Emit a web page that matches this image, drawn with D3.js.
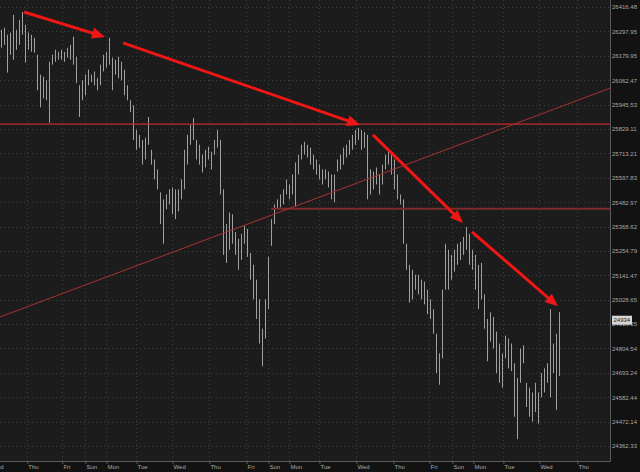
<!DOCTYPE html>
<meta charset="utf-8">
<style>

body {
  margin: 0;
  background: #121212;
}

svg {
  display: block;
}

.axis text {
  font: 6px "Liberation Sans", Arial, sans-serif;
  fill: #a8a8a8;
}

.axis line {
  stroke: #5a5a5a;
}

.grid line {
  stroke: #3e3e3e;
  stroke-dasharray: 1,3;
}

.bar {
  stroke: #a0a0a0;
  stroke-width: 1px;
}

</style>
<body>
<svg width="640" height="472"></svg>
<script src="https://d3js.org/d3.v7.min.js"></script>
<script>

// bar highs and lows
var highs = [26306,26316,26282,26292,26378,26306,26354,26392,26330,26292,26282,26267,26185,26089,26079,26062,26151,26185,26209,26199,
  26209,26199,26219,26233,26272,26175,26038,26062,26089,26113,26089,26104,26072,26137,26185,26199,26267,26171,26161,26175,
  26151,26113,26038,25966,25942,25824,25801,25777,25787,25886,25730,25684,25637,25529,25496,25519,25543,25552,25543,25543,
  25590,25730,25801,25848,25881,25777,25754,25707,25730,25745,25721,25777,25824,25777,25543,25380,25435,25426,25343,25311,
  25334,25371,25357,25245,25190,25121,25030,24895,25030,25227,25403,25472,25496,25519,25543,25590,25566,25613,25670,25707,
  25754,25768,25754,25740,25707,25684,25660,25637,25637,25627,25613,25613,25684,25707,25740,25754,25777,25801,25824,25834,
  25824,25815,25801,25637,25627,25646,25613,25660,25707,25721,25707,25684,25613,25519,25496,25288,25190,25167,25144,25144,
  25121,25112,25075,25030,24985,24872,24782,25075,25288,25260,25236,25260,25288,25297,25320,25366,25334,25260,25236,25190,
  25199,25053,24940,24971,24949,24881,24827,24782,24863,24850,24827,24737,24670,24804,24818,24648,24626,24604,24648,24604,
  24692,24714,24737,24985,24827,24872,24971];

var lows = [26219,26233,26099,26185,26161,26209,26233,26282,26147,26209,26199,26195,26014,25932,25975,25966,25858,26137,26151,26161,
  26161,26151,26171,26161,26137,26048,25886,25966,25990,26038,26053,26038,26014,26038,26104,26123,26137,26014,26089,26072,
  26062,25990,25966,25909,25777,25730,25740,25660,25684,25754,25660,25590,25543,25380,25288,25449,25472,25426,25403,25440,
  25496,25543,25660,25754,25777,25684,25660,25623,25646,25684,25637,25707,25740,25519,25236,25199,25260,25288,25236,25167,
  25213,25288,25227,25121,25030,24940,24827,24723,24850,24985,25278,25380,25449,25458,25472,25519,25496,25519,25463,25613,
  25684,25707,25693,25660,25637,25613,25590,25566,25590,25552,25496,25482,25627,25637,25660,25693,25707,25730,25754,25777,
  25730,25740,25496,25519,25543,25566,25519,25566,25637,25660,25613,25543,25496,25472,25288,25167,25016,25030,25075,25053,
  25030,25007,24962,24940,24872,24692,24639,24759,25075,25075,25121,25158,25190,25213,25236,25260,25190,25167,25075,24985,
  25030,24895,24746,24836,24804,24692,24648,24626,24759,24714,24701,24494,24393,24648,24737,24538,24494,24472,24516,24463,
  24582,24604,24648,24582,24692,24525,24679];

var lastPrice = 24934;

var priceTicks = [26416.48, 26297.95, 26179.95, 26062.47, 25945.53, 25829.11, 25713.21, 25597.83, 25482.97, 25368.62,
  25254.79, 25141.47, 25028.65, 24916.35, 24804.54, 24693.24, 24582.44, 24472.14, 24362.33];

var dayNames = ["Wed", "Thu", "Fri", "Sun", "Mon", "Tue", "Wed", "Thu", "Fri", "Sun",
  "Mon", "Tue", "Wed", "Thu", "Fri", "Sun", "Mon", "Tue", "Wed", "Thu"];
var dayStarts = [-3.7, 8.6, 20.3, 28, 35, 45, 57, 69.3, 81.7, 89,
  96, 106, 118.3, 130.7, 142.7, 150.3, 157.3, 167.3, 179.3, 192];

// drawn levels: [start bar, price]
var resistance = [-1, 25852];
var support = [90, 25452];
var trendStart = [-0.33, 24949],
    trendEnd = [203, 26024];

// arrows: [bar, price] -> [bar, price]
var arrows = [
  [[7.67, 26392], [34.67, 26271]],
  [[40.67, 26242], [119.67, 25848]],
  [[124, 25801], [154, 25385]],
  [[157, 25343], [185.67, 24998]]
];

var plotW = 610,
    plotH = 461;

var x = d3.scaleLinear().domain([0, 186]).range([1, 559]);
var y = d3.scaleLog().domain([26416.48, 24362.33]).range([7, 446]);

var svg = d3.select("svg");

svg.append("rect")
    .attr("width", plotW)
    .attr("height", plotH)
    .attr("fill", "#1c1c1c");

svg.append("clipPath").attr("id", "plot")
  .append("rect").attr("width", plotW).attr("height", plotH);

var g = svg.append("g").attr("clip-path", "url(#plot)");

// grid
var grid = g.append("g").attr("class", "grid");
grid.selectAll(".h")
    .data(priceTicks)
  .enter().append("line")
    .attr("x1", 0).attr("x2", plotW)
    .attr("y1", function(d) { return Math.round(y(d)) + 0.5; })
    .attr("y2", function(d) { return Math.round(y(d)) + 0.5; });
grid.selectAll(".v")
    .data(dayStarts)
  .enter().append("line")
    .attr("y1", 0).attr("y2", plotH)
    .attr("x1", function(d) { return Math.round(x(d)) + 0.5; })
    .attr("x2", function(d) { return Math.round(x(d)) + 0.5; });

// price bars
g.selectAll(".bar")
    .data(highs)
  .enter().append("line")
    .attr("class", "bar")
    .attr("x1", function(d, i) { return Math.round(x(i)) + 0.5; })
    .attr("x2", function(d, i) { return Math.round(x(i)) + 0.5; })
    .attr("y1", function(d) { return y(d); })
    .attr("y2", function(d, i) { return y(lows[i]); });

// horizontal levels and trend line
g.append("line")
    .attr("x1", x(resistance[0])).attr("x2", plotW)
    .attr("y1", y(resistance[1])).attr("y2", y(resistance[1]))
    .attr("stroke", "#c22a2a").attr("stroke-width", 1.2);

g.append("line")
    .attr("x1", x(support[0])).attr("x2", plotW)
    .attr("y1", y(support[1])).attr("y2", y(support[1]))
    .attr("stroke", "#7e2a2a").attr("stroke-width", 2);

g.append("line")
    .attr("x1", x(trendStart[0])).attr("y1", y(trendStart[1]))
    .attr("x2", x(trendEnd[0])).attr("y2", y(trendEnd[1]))
    .attr("stroke", "#a83232").attr("stroke-width", 1);

// arrows
arrows.forEach(function(a) {
  var x0 = x(a[0][0]), y0 = y(a[0][1]),
      x1 = x(a[1][0]), y1 = y(a[1][1]);
  var dx = x1 - x0, dy = y1 - y0, len = Math.sqrt(dx * dx + dy * dy);
  var ux = dx / len, uy = dy / len;
  var headL = 13, headW = 5.5;
  var bx = x1 - ux * headL, by = y1 - uy * headL;
  g.append("line")
      .attr("x1", x0).attr("y1", y0)
      .attr("x2", x1 - ux * 8).attr("y2", y1 - uy * 8)
      .attr("stroke", "#f01616").attr("stroke-width", 3);
  g.append("path")
      .attr("d", "M" + x1 + "," + y1
        + "L" + (bx - uy * headW) + "," + (by + ux * headW)
        + "L" + (bx + uy * headW) + "," + (by - ux * headW) + "Z")
      .attr("fill", "#f01616");
});

// axes
var yAxis = svg.append("g")
    .attr("class", "axis")
    .attr("transform", "translate(" + (plotW + 1) + ",0)")
    .call(d3.axisRight(y).tickValues(priceTicks).tickFormat(d3.format(".2f")).tickSize(0).tickPadding(1));
yAxis.select(".domain").remove();

var xAxis = svg.append("g")
    .attr("class", "axis")
    .attr("transform", "translate(0," + plotH + ")")
    .call(d3.axisBottom(x).tickValues(dayStarts).tickFormat(function(d, i) { return dayNames[i]; }).tickSize(3).tickPadding(1));
xAxis.select(".domain").remove();
xAxis.selectAll("text").attr("text-anchor", "start").attr("dx", 1);
xAxis.selectAll(".tick line").attr("transform", "translate(0.5,0)");

// frame
svg.append("line")
    .attr("x1", plotW + 0.5).attr("x2", plotW + 0.5)
    .attr("y1", 0).attr("y2", plotH + 0.5)
    .attr("stroke", "#5a5a5a");
svg.append("line")
    .attr("x1", 0).attr("x2", plotW + 0.5)
    .attr("y1", plotH + 0.5).attr("y2", plotH + 0.5)
    .attr("stroke", "#5a5a5a");

// last price tag
var tag = svg.append("g")
    .attr("transform", "translate(" + (plotW + 2) + "," + y(lastPrice) + ")");
tag.append("rect")
    .attr("x", 0).attr("y", -4.5)
    .attr("width", 20).attr("height", 9)
    .attr("fill", "#d6d6d6");
tag.append("text")
    .attr("x", 1.5).attr("dy", "0.32em")
    .style("font", "6px 'Liberation Sans', Arial, sans-serif")
    .attr("fill", "#1a1a1a")
    .text(lastPrice);

</script>
